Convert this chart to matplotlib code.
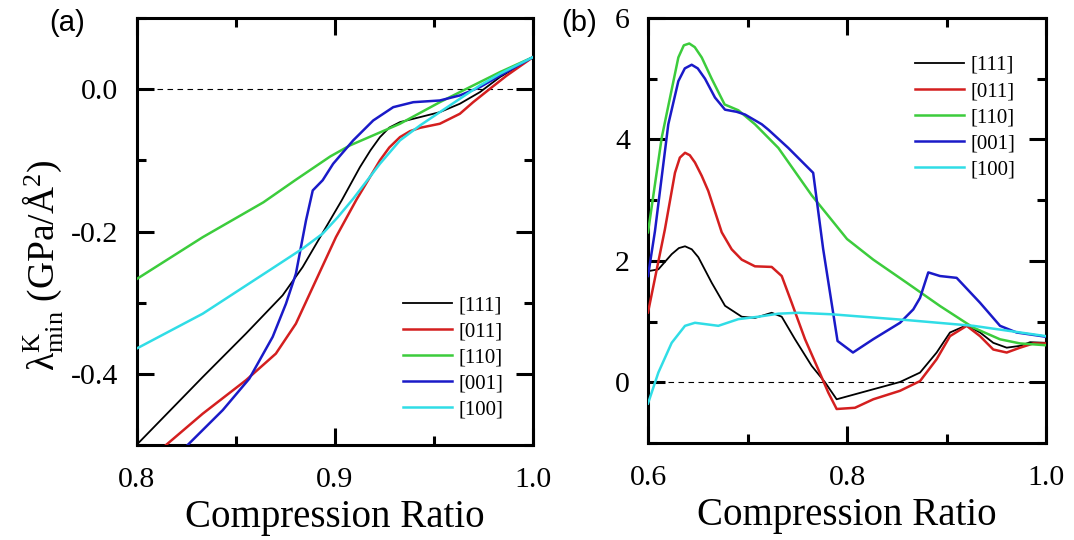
import matplotlib
matplotlib.use("Agg")
import matplotlib.pyplot as plt
from matplotlib.ticker import MultipleLocator, FormatStrFormatter

plt.rcParams['font.family'] = 'Liberation Serif'
plt.rcParams['mathtext.fontset'] = 'custom'
plt.rcParams['mathtext.rm'] = 'Liberation Serif'
plt.rcParams['mathtext.it'] = 'Liberation Serif:italic'
plt.rcParams['axes.unicode_minus'] = False

labels = ['[111]', '[011]', '[110]', '[001]', '[100]']
colors = ['black', '#d41f1f', '#3ccc3c', '#1a1ac8', '#30dde6']
widths = [1.3, 1.8, 1.8, 1.8, 1.8]

# ---- panel (a) ----
a_x111 = [0.800, 0.8334, 0.8552, 0.8737, 0.8838, 0.8956, 0.9035, 0.9127, 0.918, 0.9228, 0.9275, 0.9329, 0.943, 0.953, 0.9631, 0.9732, 0.9833, 1.0]
a_y111 = [-0.500, -0.4045, -0.3435, -0.2897, -0.250, -0.1938, -0.1563, -0.1096, -0.086, -0.0674, -0.054, -0.0463, -0.0393, -0.0323, -0.0205, -0.0042, 0.0169, 0.045]
a_x011 = [0.8149, 0.8334, 0.8552, 0.8703, 0.8804, 0.8905, 0.9006, 0.911, 0.9228, 0.9275, 0.9329, 0.938, 0.943, 0.953, 0.9631, 0.9698, 0.9783, 0.9867, 1.0]
a_y011 = [-0.500, -0.456, -0.409, -0.3716, -0.3295, -0.2687, -0.2079, -0.155, -0.100, -0.082, -0.0674, -0.059, -0.0543, -0.0486, -0.0346, -0.0183, 0.0006, 0.019, 0.045]
a_x110 = [0.800, 0.8334, 0.864, 0.880, 0.8977, 0.9077, 0.9329, 0.953, 0.9665, 0.9833, 1.0]
a_y110 = [-0.267, -0.208, -0.159, -0.128, -0.0946, -0.079, -0.0486, -0.0183, 0.0006, 0.0239, 0.045]
a_x001 = [0.8258, 0.8435, 0.8569, 0.8687, 0.8754, 0.8804, 0.8855, 0.8889, 0.8939, 0.8992, 0.9093, 0.9194, 0.9295, 0.9396, 0.953, 0.9631, 0.9732, 0.9833, 1.0]
a_y001 = [-0.500, -0.451, -0.4068, -0.348, -0.3014, -0.2593, -0.1844, -0.1423, -0.128, -0.1048, -0.072, -0.044, -0.0253, -0.0183, -0.0159, -0.0088, 0.0028, 0.019, 0.045]
a_x100 = [0.800, 0.8334, 0.867, 0.8838, 0.8939, 0.9015, 0.9093, 0.9228, 0.9329, 0.943, 0.953, 0.9631, 0.9732, 0.9833, 1.0]
a_y100 = [-0.3646, -0.3155, -0.2546, -0.224, -0.203, -0.18, -0.154, -0.1048, -0.072, -0.051, -0.0323, -0.0135, 0.0052, 0.0216, 0.045]

# ---- panel (b) ----
b_x111 = [0.6, 0.6104, 0.6238, 0.631, 0.6372, 0.644, 0.6506, 0.664, 0.6774, 0.6942, 0.7075, 0.7243, 0.7344, 0.7477, 0.7645, 0.7779, 0.7896, 0.8264, 0.8533, 0.8734, 0.8901, 0.9035, 0.9203, 0.9337, 0.947, 0.9605, 0.9739, 0.984, 1.0]
b_y111 = [1.83, 1.86, 2.11, 2.21, 2.24, 2.19, 2.06, 1.64, 1.26, 1.08, 1.06, 1.145, 1.08, 0.71, 0.27, 0.0, -0.28, -0.115, 0.005, 0.16, 0.49, 0.82, 0.94, 0.82, 0.65, 0.57, 0.60, 0.66, 0.65]
b_x011 = [0.6, 0.617, 0.6271, 0.632, 0.6372, 0.642, 0.6472, 0.654, 0.6606, 0.6741, 0.6841, 0.6942, 0.7075, 0.7243, 0.7344, 0.7444, 0.7578, 0.7712, 0.7812, 0.7896, 0.808, 0.8264, 0.8533, 0.8734, 0.8901, 0.9035, 0.9203, 0.9337, 0.947, 0.9605, 0.9739, 0.9873, 1.0]
b_y011 = [1.15, 2.52, 3.45, 3.70, 3.78, 3.74, 3.62, 3.40, 3.15, 2.47, 2.19, 2.02, 1.91, 1.90, 1.75, 1.31, 0.71, 0.21, -0.17, -0.44, -0.42, -0.28, -0.14, 0.02, 0.38, 0.76, 0.93, 0.76, 0.54, 0.49, 0.57, 0.64, 0.64]
b_x110 = [0.6, 0.6138, 0.6305, 0.636, 0.6415, 0.647, 0.654, 0.664, 0.677, 0.6908, 0.7075, 0.731, 0.7645, 0.800, 0.8264, 0.86, 0.8935, 0.927, 0.9538, 0.9739, 1.0]
b_y110 = [2.47, 4.03, 5.35, 5.55, 5.58, 5.52, 5.35, 5.00, 4.576, 4.48, 4.25, 3.86, 3.08, 2.36, 2.02, 1.64, 1.256, 0.90, 0.708, 0.64, 0.61]
b_x001 = [0.6, 0.607, 0.6204, 0.6305, 0.637, 0.6439, 0.650, 0.6573, 0.6673, 0.6774, 0.6891, 0.6975, 0.7143, 0.721, 0.741, 0.766, 0.776, 0.7905, 0.806, 0.8264, 0.8533, 0.8666, 0.8734, 0.8817, 0.8935, 0.9102, 0.9337, 0.9538, 0.9705, 1.0]
b_y001 = [1.75, 2.49, 4.25, 4.96, 5.17, 5.23, 5.17, 5.00, 4.69, 4.49, 4.455, 4.41, 4.25, 4.16, 3.86, 3.45, 2.20, 0.68, 0.49, 0.71, 0.98, 1.20, 1.39, 1.81, 1.75, 1.72, 1.31, 0.93, 0.82, 0.75]
b_x100 = [0.6, 0.6104, 0.6238, 0.6372, 0.6472, 0.6707, 0.6908, 0.7109, 0.731, 0.751, 0.7846, 0.808, 0.86, 0.927, 1.0]
b_y100 = [-0.35, 0.16, 0.65, 0.93, 0.98, 0.93, 1.04, 1.08, 1.13, 1.145, 1.12, 1.09, 1.025, 0.93, 0.76]

a_series = [(a_x111, a_y111), (a_x011, a_y011), (a_x110, a_y110), (a_x001, a_y001), (a_x100, a_y100)]
b_series = [(b_x111, b_y111), (b_x011, b_y011), (b_x110, b_y110), (b_x001, b_y001), (b_x100, b_y100)]

fig = plt.figure(figsize=(10.74, 5.40), dpi=100)
ax1 = fig.add_axes([136.5 / 1074, 95 / 540, 396.5 / 1074, 427 / 540])
ax2 = fig.add_axes([648 / 1074, 97 / 540, 398 / 1074, 425 / 540])


def style(ax):
    for s in ax.spines.values():
        s.set_linewidth(2.2)
    ax.tick_params(which='both', direction='in', top=True, right=True, width=2.2, labelsize=21.5)
    ax.tick_params(axis='x', which='both', pad=16)
    ax.tick_params(axis='y', which='both', pad=13)
    ax.tick_params(which='major', length=12)
    ax.tick_params(which='minor', length=6.5)
    ax.axhline(0, color='black', lw=0.8, ls=(0, (5, 4)), zorder=1)
    ax.set_xlabel('Compression Ratio', fontsize=28, labelpad=4)


for ax, series in [(ax1, a_series), (ax2, b_series)]:
    for (x, y), c, w, lab in zip(series, colors, widths, labels):
        ax.plot(x, y, color=c, lw=w, label=lab, zorder=3)
    style(ax)

ax1.set_xlim(0.8, 1.0)
ax1.set_ylim(-0.5, 0.1)
ax1.xaxis.set_major_locator(MultipleLocator(0.1))
ax1.xaxis.set_minor_locator(MultipleLocator(0.05))
ax1.yaxis.set_major_locator(MultipleLocator(0.2))
ax1.yaxis.set_minor_locator(MultipleLocator(0.1))
ax1.xaxis.set_major_formatter(FormatStrFormatter('%.1f'))
ax1.yaxis.set_major_formatter(FormatStrFormatter('%.1f'))
ax1.set_ylabel(r'$\mathrm{\lambda^{K}_{min}}$ (GPa/Å$^{\mathrm{2}}$)', fontsize=27)
ax1.yaxis.set_label_coords(-0.18, 0.42)

ax2.set_xlim(0.6, 1.0)
ax2.set_ylim(-1, 6)
ax2.xaxis.set_major_locator(MultipleLocator(0.2))
ax2.xaxis.set_minor_locator(MultipleLocator(0.1))
ax2.yaxis.set_major_locator(MultipleLocator(2))
ax2.yaxis.set_minor_locator(MultipleLocator(1))
ax2.xaxis.set_major_formatter(FormatStrFormatter('%.1f'))
ax2.yaxis.set_major_formatter(FormatStrFormatter('%d'))

leg_kw = dict(frameon=False, fontsize=15, handlelength=2.35, handletextpad=0.3,
              labelspacing=0.31, borderpad=0, borderaxespad=0, loc='upper left')
ax1.legend(bbox_to_anchor=(0.672, 0.35), **leg_kw)
ax2.legend(bbox_to_anchor=(0.671, 0.912), **leg_kw)

fig.text(49 / 1074, 1 - 23 / 540, '(a)', family='Liberation Sans', fontsize=21, va='center', ha='left')
fig.text(561 / 1074, 1 - 23 / 540, '(b)', family='Liberation Sans', fontsize=21, va='center', ha='left')

fig.savefig('out.png', dpi=100)
